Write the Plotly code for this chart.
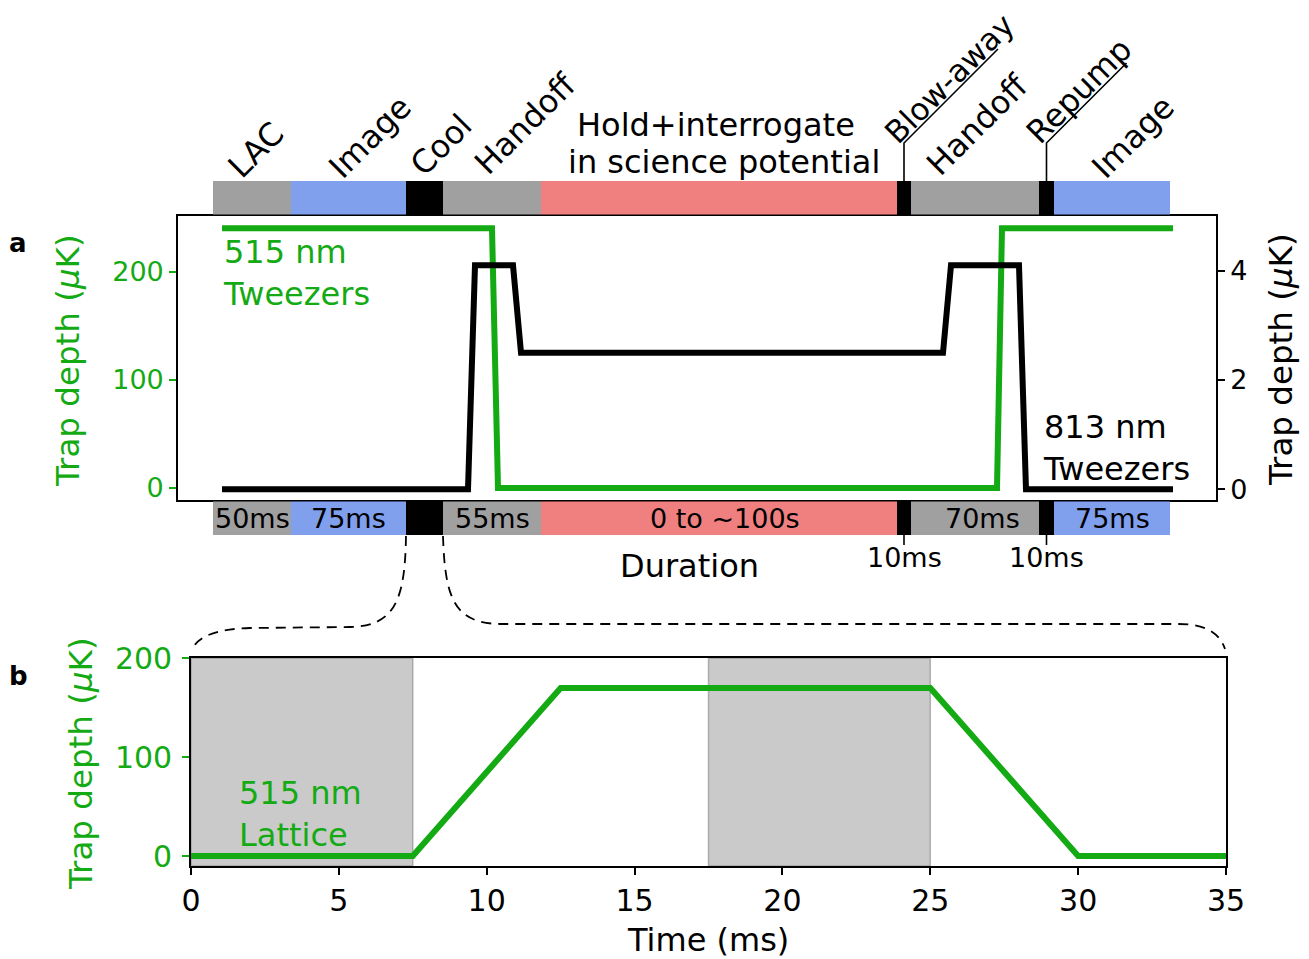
import plotly.graph_objects as go

W, H = 1309, 959
OFF = 8  # page body margin of the rendered html

# ---------------- data ----------------
phase_names = ["LAC", "Image", "Cool", "Handoff", "Hold+interrogate", "Blow-away",
               "Handoff", "Repump", "Image"]
phase_durations = ["50ms", "75ms", "", "55ms", "0 to ~100s", "10ms", "70ms", "10ms", "75ms"]
phase_widths = [78, 115, 37, 98, 356, 14, 128, 15, 116]          # schematic time units
phase_colors = ["#a0a0a0", "#80a0ee", "#000000", "#a0a0a0", "#f08080",
                "#000000", "#a0a0a0", "#000000", "#80a0ee"]

# panel a: 515 nm tweezers (left axis, uK) and 813 nm tweezers (right axis, uK)
t515 = [9, 279, 285, 784, 789, 960]
depth515 = [240, 240, 0, 0, 240, 240]
t813 = [9, 255, 262, 300, 308, 730, 738, 806, 813, 960]
depth813 = [0, 0, 4.1, 4.1, 2.5, 2.5, 4.1, 4.1, 0, 0]

# panel b: 515 nm lattice during cooling
time_ms = [0, 7.5, 12.5, 25, 30, 35]
depth_lattice = [0, 0, 170, 170, 0, 0]
gray_windows = [(0, 7.5), (17.5, 25)]

ya_ticks = [0, 100, 200]
ya2_ticks = [0, 2, 4]
yb_ticks = [0, 100, 200]
xb_ticks = [0, 5, 10, 15, 20, 25, 30, 35]

# ---------------- layout geometry (target pixels) ----------------
A_L, A_R, A_T, A_B = 178, 1216, 215.5, 500
B_L, B_R, B_T, B_B = 191, 1226, 658.3, 866
XA_RANGE = [-35, 1003]
YA_RANGE = [-11.1, 251.9]
YA2_RANGE = [-0.196, 5.01]
XB_RANGE = [0, 35]
YB_RANGE = [-10.1, 200]

GREEN = "#14aa14"
FONT = "DejaVu Sans"


def fx(px):
    return (px - OFF) / W


def fy(py):
    return 1 - (py - OFF) / H


def ax_px(x):
    return A_L + (x - XA_RANGE[0]) / (XA_RANGE[1] - XA_RANGE[0]) * (A_R - A_L)


edges = [0]
for w in phase_widths:
    edges.append(edges[-1] + w)
centers = [(edges[i] + edges[i + 1]) / 2 for i in range(len(phase_widths))]

fig = go.Figure()

fig.add_trace(go.Scatter(x=t515, y=depth515, mode="lines", xaxis="x", yaxis="y",
                         line=dict(color=GREEN, width=6), showlegend=False))
fig.add_trace(go.Scatter(x=t813, y=depth813, mode="lines", xaxis="x", yaxis="y3",
                         line=dict(color="black", width=6), showlegend=False))
fig.add_trace(go.Scatter(x=time_ms, y=depth_lattice, mode="lines", xaxis="x2", yaxis="y2",
                         line=dict(color=GREEN, width=6), showlegend=False))

shapes = []
# phase bars above and below panel a
for i in range(len(phase_widths)):
    for (yt, yb) in [(181, 214.5), (501.5, 535)]:
        shapes.append(dict(type="rect", xref="x", yref="paper",
                           x0=edges[i], x1=edges[i + 1], y0=fy(yb), y1=fy(yt),
                           fillcolor=phase_colors[i], line=dict(width=0), layer="above"))

# gray windows panel b
for (a, b) in gray_windows:
    shapes.append(dict(type="rect", xref="x2", yref="y2 domain", x0=a, x1=b, y0=0, y1=1,
                       fillcolor="rgba(128,128,128,0.42)",
                       line=dict(color="rgba(128,128,128,0.55)", width=1.5), layer="below"))


def P(px, py):
    return f"{fx(px):.5f},{fy(py):.5f}"


# leaders for Blow-away and Repump labels
for idx, (dx, dy) in [(5, (94, 94)), (7, (80, 80))]:
    cx = ax_px(centers[idx])
    d = f"M {P(cx, 181)} L {P(cx, 143)} L {P(cx + dx, 143 - dy)}"
    shapes.append(dict(type="path", xref="paper", yref="paper", path=d,
                       line=dict(color="black", width=1.6)))
    d2 = f"M {P(cx, 535)} L {P(cx, 545)}"
    shapes.append(dict(type="path", xref="paper", yref="paper", path=d2,
                       line=dict(color="black", width=1.6)))

# dashed connectors from Cool segment to panel b
lx = ax_px(edges[2])
rx = ax_px(edges[3])
dl = (f"M {P(lx, 536)} C {P(lx - 1, 600)} {P(lx - 11, 626)} {P(lx - 56, 627)} "
      f"L {P(250, 628)} C {P(215, 629)} {P(198, 637)} {P(B_L + 2, 648)}")
dr = (f"M {P(rx, 536)} C {P(rx + 2, 600)} {P(rx + 12, 623)} {P(rx + 57, 624)} "
      f"L {P(1178, 624)} C {P(1205, 624)} {P(1219, 632)} {P(B_R - 1, 649)}")
for d in (dl, dr):
    shapes.append(dict(type="path", xref="paper", yref="paper", path=d,
                       line=dict(color="black", width=1.8, dash="10px,7px")))

ann = []


def add_text(px, py, text, size, color="black", angle=0, xanchor="center",
             yanchor="middle", bold=False, align="center"):
    if bold:
        text = f"<b>{text}</b>"
    ann.append(dict(xref="paper", yref="paper", x=fx(px), y=fy(py), text=text,
                    showarrow=False, textangle=angle, xanchor=xanchor, yanchor=yanchor,
                    align=align, font=dict(size=size, color=color, family=FONT)))


# rotated phase labels
rot_pos = {0: (256, 150), 1: (370, 137), 2: (441, 145), 3: (525, 124),
           5: (949, 79), 6: (977, 125), 7: (1079, 91), 8: (1133, 137)}
rot_size = {5: 31}
for i, (px, py) in rot_pos.items():
    add_text(px, py, phase_names[i], rot_size.get(i, 32), angle=-45)
add_text(716, 125, "Hold+interrogate", 32)
add_text(724, 162, "in science potential", 32)

# durations
dur_shift = {4: 6, 6: 8}
for i, lab in enumerate(phase_durations):
    if not lab:
        continue
    cx = ax_px(centers[i])
    if phase_widths[i] < 20:
        add_text(cx, 557, lab, 27)
    else:
        add_text(cx + dur_shift.get(i, 0), 518, lab, 27)
add_text(689, 566, "Duration", 32)

# inline labels
add_text(221, 273, "515 nm<br>Tweezers", 32, color=GREEN, xanchor="left", align="left")
add_text(1041, 448, "813 nm<br>Tweezers", 32, xanchor="left", align="left")
add_text(237, 814, "515 nm<br>Lattice", 32, color=GREEN, xanchor="left", align="left")

# axis titles
add_text(68, 361, "Trap depth (<i>μ</i>K)", 32.5, color=GREEN, angle=-90)
add_text(1281, 360, "Trap depth (<i>μ</i>K)", 32.5, angle=-90)
add_text(81, 764, "Trap depth (<i>μ</i>K)", 32.5, color=GREEN, angle=-90)
add_text(708, 940, "Time (ms)", 32)

# panel letters
add_text(18, 243, "a", 26, bold=True)
add_text(18, 676, "b", 26, bold=True)

axis_line = dict(showline=True, linecolor="black", linewidth=1.6, mirror=True,
                 showgrid=False, zeroline=False)

fig.update_layout(
    width=W, height=H,
    margin=dict(l=0, r=0, t=0, b=0, autoexpand=False),
    paper_bgcolor="white", plot_bgcolor="white",
    font=dict(family=FONT, color="black"),
    xaxis=dict(domain=[fx(A_L), fx(A_R)], range=XA_RANGE, anchor="y",
               showticklabels=False, ticks="", **axis_line),
    yaxis=dict(domain=[fy(A_B), fy(A_T)], range=YA_RANGE, anchor="x",
               tickvals=ya_ticks, ticks="outside", ticklen=7, tickwidth=1.6,
               tickcolor=GREEN, tickfont=dict(size=27, color=GREEN), **axis_line),
    yaxis3=dict(range=YA2_RANGE, overlaying="y", side="right", anchor="x",
                tickvals=ya2_ticks, ticks="outside", ticklen=7, tickwidth=1.6,
                tickcolor="black", tickfont=dict(size=27, color="black"),
                showline=True, linecolor="black", linewidth=1.6,
                showgrid=False, zeroline=False),
    xaxis2=dict(domain=[fx(B_L), fx(B_R)], range=XB_RANGE, anchor="y2",
                tickvals=xb_ticks, ticks="outside", ticklen=7, tickwidth=1.6,
                tickcolor="black", tickfont=dict(size=30, color="black"), **axis_line),
    yaxis2=dict(domain=[fy(B_B), fy(B_T)], range=YB_RANGE, anchor="x2",
                tickvals=yb_ticks, ticks="outside", ticklen=7, tickwidth=1.6,
                ticklabelstandoff=4,
                tickcolor=GREEN, tickfont=dict(size=30, color=GREEN), **axis_line),
    shapes=shapes,
    annotations=ann,
    showlegend=False,
)

fig.write_html("out.html")
